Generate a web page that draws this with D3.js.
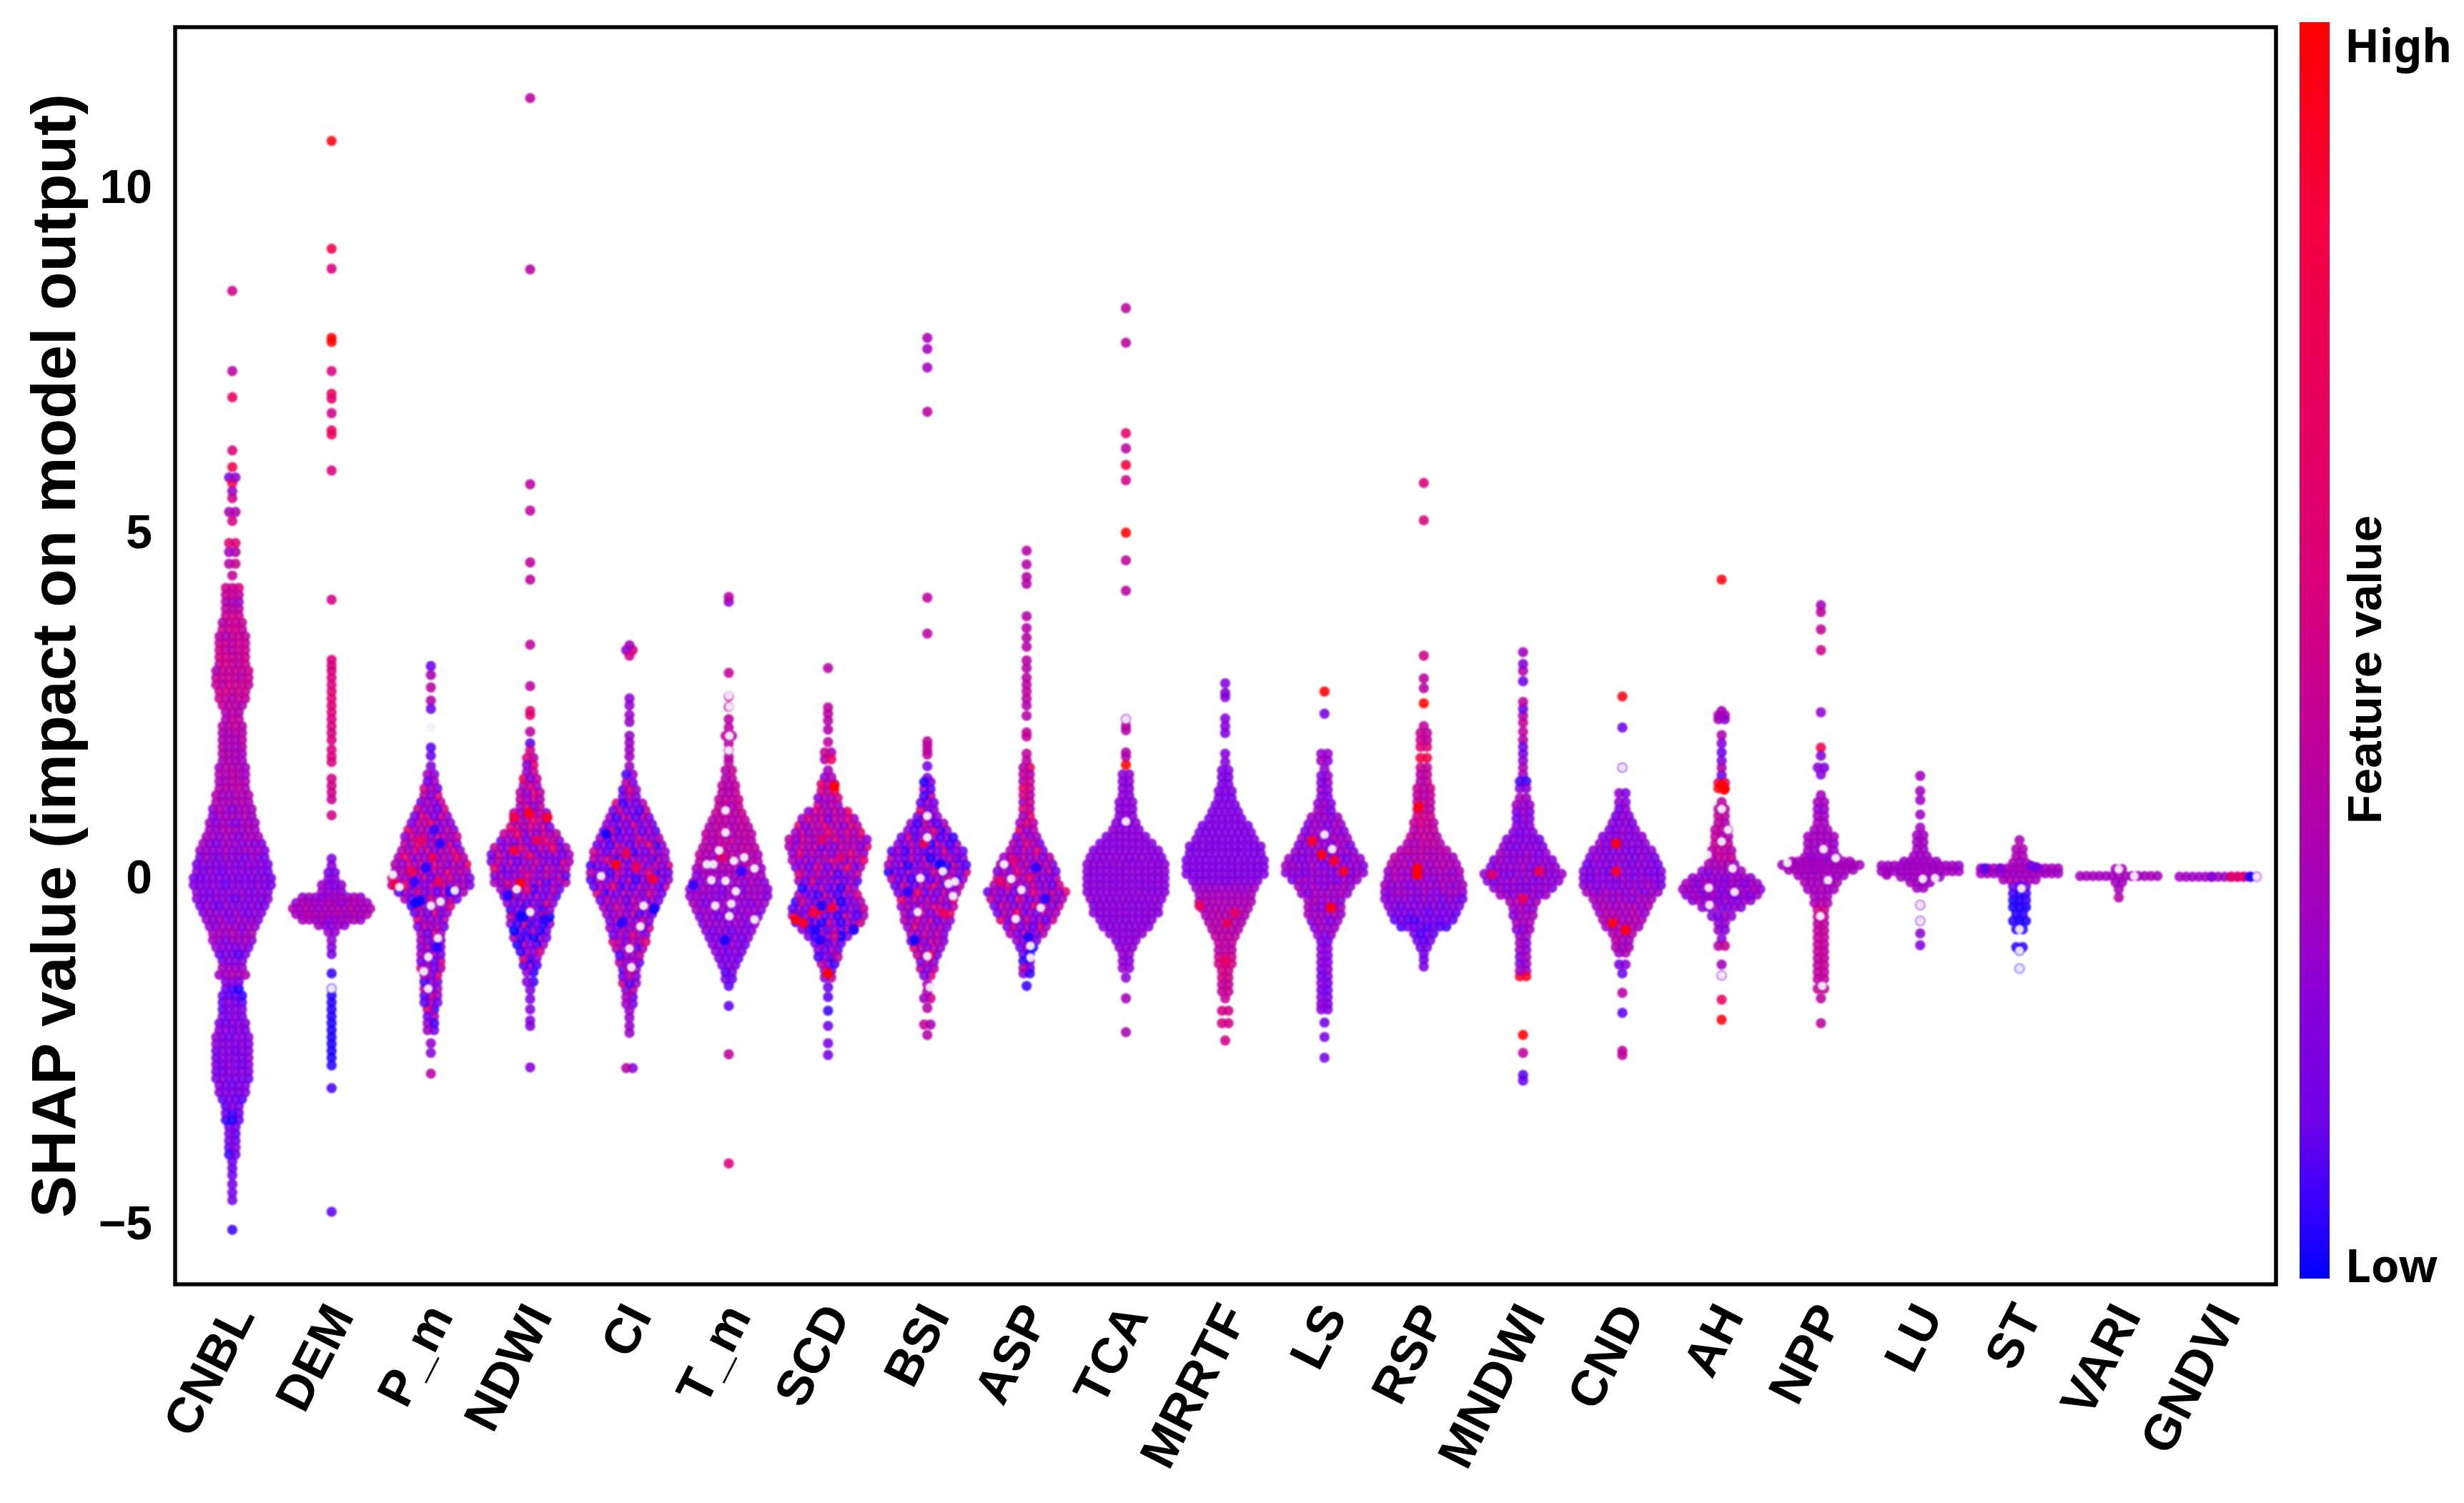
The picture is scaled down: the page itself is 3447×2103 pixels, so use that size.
<!DOCTYPE html>
<html>
<head>
<meta charset="utf-8">
<script src="https://cdn.jsdelivr.net/npm/d3@7"></script>
<style>
    body { margin: 0; background: #fff; }
    svg { display: block; }
</style>
</head>
<body>
<div id="container"></div>
<script>
const featureNames = ['CNBL', 'DEM', 'P_m', 'NDWI', 'CI', 'T_m', 'SCD', 'BSI', 'ASP', 'TCA', 'MRRTF', 'LS', 'RSP', 'MNDWI', 'CND', 'AH', 'NPP', 'LU', 'ST', 'VARI', 'GNDVI'];
const shapTicks = [-5, 0, 5, 10];

// swarm rows: [shap value, dots in the row, feature value]
const CNBL = [[8.5,1,.5],[7.34,1,.4],[6.96,1,.7],[6.19,1,.55],[5.95,1,.8],[5.8,2,.2],[5.72,1,.75],[5.6,1,.25],[5.5,1,.5],[5.3,2,.33],[5.17,1,.5],[4.85,2,.55],[4.72,2,.33],[4.55,2,.42],[4.38,1,.45],[4.2,3,.5],[4.1,3,.42],[4,3,.33],[3.9,3,.38],[3.8,3,.48],[3.7,4,.42],[3.6,4,.44],[3.5,5,.4],[3.4,5,.44],[3.3,5,.44],[3.2,5,.46],[3.1,5,.44],[3,6,.42],[2.9,6,.42],[2.8,6,.44],[2.7,5,.46],[2.6,5,.42],[2.5,4,.38],[2.4,3,.38],[2.3,3,.4],[2.2,4,.37],[2.1,4,.37],[2,4,.35],[1.9,4,.34],[1.8,4,.34],[1.7,4,.34],[1.6,5,.33],[1.5,5,.34],[1.4,5,.34],[1.3,5,.34],[1.2,6,.32],[1.1,6,.31],[1,7,.28],[.9,7,.28],[.8,8,.26],[.7,8,.3],[.6,9,.28],[.5,10,.24],[.4,11,.24],[.3,11,.22],[.2,12,.2],[.1,12,.2],[0,13,.19],[-.1,13,.19],[-.2,12,.2],[-.3,12,.19],[-.4,11,.2],[-.5,10,.22],[-.6,9,.23],[-.7,8,.26],[-.8,7,.28],[-.9,7,.26],[-1,6,.2],[-1.1,5,.15],[-1.2,4,.18],[-1.3,4,.28],[-1.4,5,.3],[-1.5,3,.2],[-1.6,3,.08],[-1.7,4,.08],[-1.8,4,.15],[-1.9,4,.17],[-2,4,.17],[-2.1,5,.18],[-2.2,5,.19],[-2.3,6,.19],[-2.4,6,.19],[-2.5,6,.19],[-2.6,6,.19],[-2.7,6,.19],[-2.8,6,.19],[-2.9,6,.17],[-3,5,.17],[-3.1,5,.17],[-3.2,4,.14],[-3.3,3,.15],[-3.4,3,.1],[-3.5,3,.08],[-3.6,2,.12],[-3.7,2,.12],[-3.8,2,.12],[-3.9,2,.14],[-4,2,.12],[-4.1,1,.12],[-4.2,1,.12],[-4.3,1,.13],[-4.43,1,.14],[-4.55,1,.14],[-4.66,1,.14],[-5.09,1,.06]];
const DEM = [[10.67,1,.95],[9.11,1,.8],[8.82,1,.55],[7.82,1,1],[7.76,1,1],[7.34,1,.55],[7.01,1,.7],[6.94,1,.6],[6.73,1,.5],[6.48,1,.7],[6.42,1,.7],[5.9,1,.55],[4.03,1,.5],[3.16,1,.55],[3.08,1,.52],[3,1,.56],[2.9,1,.55],[2.8,1,.56],[2.7,1,.55],[2.6,1,.6],[2.5,1,.6],[2.4,1,.58],[2.3,1,.55],[2.2,1,.55],[2.1,1,.52],[2,1,.55],[1.86,1,.55],[1.76,1,.55],[1.68,1,.55],[1.44,1,.5],[1.34,1,.5],[1.24,1,.5],[1.14,1,.45],[.91,1,.5],[.28,1,.2],[.18,1,.22],[.08,2,.2],[-.02,2,.2],[-.1,4,.22],[-.2,4,.24],[-.28,10,.28],[-.36,12,.3],[-.44,13,.32],[-.52,12,.32],[-.6,10,.3],[-.68,5,.24],[-.78,2,.24],[-.9,1,.24],[-1,1,.22],[-1.1,1,.16],[-1.38,1,.06],[-1.6,1,.06],[-1.7,1,.04],[-1.8,1,.04],[-1.9,1,.04],[-2,1,.04],[-2.1,1,.03],[-2.2,1,.03],[-2.3,1,.03],[-2.4,1,.03],[-2.5,1,.03],[-2.6,1,.03],[-2.71,1,.05],[-3.04,1,.08],[-4.83,1,.1]];
const P_m = [[3.07,1,.12],[2.94,1,.33],[2.76,1,.4],[2.57,1,.37],[2.45,1,.12],[1.89,1,.1],[1.77,1,.12],[1.62,1,.2],[1.5,2,.28],[1.4,2,.26],[1.3,3,.28],[1.2,3,.28],[1.1,4,.28],[1,5,.3],[.9,6,.32],[.8,7,.32],[.7,8,.34],[.6,9,.34],[.5,9,.34],[.4,10,.34],[.3,11,.34],[.2,12,.34],[.1,12,.34],[0,13,.32],[-.1,13,.28],[-.2,11,.26],[-.3,9,.22],[-.4,7,.2],[-.5,6,.24],[-.6,5,.26],[-.7,5,.28],[-.8,4,.28],[-.9,4,.28],[-1,4,.28],[-1.1,4,.26],[-1.2,4,.26],[-1.3,4,.26],[-1.4,3,.24],[-1.5,3,.24],[-1.6,3,.26],[-1.7,3,.24],[-1.8,3,.22],[-1.9,2,.22],[-2,2,.24],[-2.1,2,.22],[-2.2,2,.26],[-2.39,1,.25],[-2.53,1,.22],[-2.83,1,.4]];
const NDWI = [[11.29,1,.42],[8.81,1,.4],[5.7,1,.42],[5.32,1,.42],[4.57,1,.42],[4.32,1,.42],[3.38,1,.42],[2.78,1,.42],[2.42,1,.6],[2.36,1,.6],[2.12,1,.42],[1.95,1,.1],[1.85,1,.5],[1.74,2,.45],[1.64,2,.38],[1.54,2,.38],[1.44,3,.4],[1.34,3,.38],[1.24,4,.38],[1.14,4,.4],[1.04,4,.4],[.94,6,.36],[.84,6,.36],[.74,7,.36],[.64,9,.34],[.54,10,.32],[.44,12,.3],[.34,13,.28],[.24,13,.28],[.14,12,.28],[.04,12,.26],[-.06,12,.26],[-.16,10,.24],[-.26,9,.24],[-.36,8,.2],[-.46,7,.15],[-.56,7,.13],[-.66,7,.13],[-.76,6,.13],[-.86,6,.15],[-.96,5,.18],[-1.06,4,.18],[-1.16,3,.18],[-1.26,3,.18],[-1.36,2,.18],[-1.5,2,.18],[-1.62,1,.18],[-1.75,1,.18],[-1.9,1,.2],[-2.06,1,.2],[-2.14,1,.2],[-2.74,1,.22]];
const CI = [[3.37,1,.3],[3.3,2,.35],[3.22,1,.5],[2.6,1,.24],[2.5,1,.26],[2.36,1,.26],[2.26,1,.26],[2.06,1,.26],[1.96,1,.26],[1.86,1,.28],[1.76,1,.28],[1.62,1,.28],[1.5,2,.24],[1.38,2,.24],[1.28,3,.24],[1.18,3,.23],[1.08,5,.23],[.98,6,.23],[.88,7,.23],[.78,8,.23],[.68,9,.23],[.58,10,.23],[.48,11,.23],[.38,12,.23],[.28,12,.23],[.18,13,.23],[.08,13,.23],[-.02,13,.23],[-.12,12,.23],[-.22,11,.23],[-.32,10,.25],[-.42,9,.25],[-.52,8,.25],[-.62,7,.25],[-.72,7,.25],[-.82,6,.26],[-.92,6,.26],[-1.02,5,.26],[-1.12,4,.26],[-1.22,4,.25],[-1.32,3,.25],[-1.42,3,.25],[-1.52,3,.25],[-1.62,2,.25],[-1.72,2,.26],[-1.82,2,.26],[-1.92,1,.26],[-2.02,1,.26],[-2.14,1,.26],[-2.24,1,.26],[-2.75,2,.28]];
const T_m = [[4.07,1,.4],[4,1,.25],[2.97,1,.45],[2.63,1,.45],[2.48,1,.45],[2.3,1,.4],[2.18,1,.4],[2.06,2,.4],[1.95,1,.4],[1.85,1,.4],[1.75,1,.4],[1.68,1,.4],[1.56,2,.4],[1.44,2,.4],[1.34,3,.4],[1.24,3,.4],[1.14,4,.4],[1.04,4,.4],[.94,5,.4],[.84,6,.4],[.74,7,.38],[.64,8,.38],[.54,8,.38],[.44,9,.38],[.34,10,.36],[.24,10,.34],[.14,11,.32],[.04,11,.28],[-.06,12,.26],[-.16,13,.25],[-.26,13,.25],[-.36,12,.25],[-.46,11,.25],[-.56,10,.23],[-.66,9,.23],[-.76,8,.2],[-.86,7,.2],[-.96,6,.2],[-1.06,5,.18],[-1.16,4,.16],[-1.26,3,.18],[-1.36,2,.15],[-1.46,2,.15],[-1.56,1,.1],[-1.85,1,.1],[-2.55,1,.42],[-4.13,1,.55]];
const SCD = [[3.04,1,.38],[2.47,1,.42],[2.38,1,.4],[2.28,1,.38],[2.15,1,.36],[1.97,1,.42],[1.82,2,.42],[1.72,2,.4],[1.56,1,.3],[1.46,2,.3],[1.36,3,.38],[1.26,3,.38],[1.16,4,.38],[1.06,4,.38],[.96,7,.38],[.86,9,.38],[.76,10,.37],[.66,11,.36],[.56,13,.34],[.46,13,.32],[.36,12,.32],[.26,12,.3],[.16,11,.28],[.06,10,.26],[-.04,10,.23],[-.14,9,.2],[-.24,10,.2],[-.34,11,.2],[-.44,12,.21],[-.54,12,.21],[-.64,11,.18],[-.74,9,.18],[-.84,7,.18],[-.94,5,.2],[-1.04,4,.2],[-1.14,4,.18],[-1.24,3,.18],[-1.34,2,.2],[-1.44,2,.4],[-1.58,1,.12],[-1.72,1,.1],[-1.92,1,.06],[-2.14,1,.12],[-2.39,1,.16],[-2.56,1,.16]];
const BSI = [[7.82,1,.33],[7.66,1,.3],[7.39,1,.3],[6.75,1,.42],[4.06,1,.42],[3.54,1,.42],[1.98,1,.42],[1.92,1,.42],[1.85,1,.42],[1.79,1,.42],[1.62,1,.14],[1.45,1,.2],[1.39,2,.2],[1.29,2,.2],[1.19,2,.22],[1.09,3,.22],[.99,3,.22],[.89,4,.22],[.79,6,.22],[.69,7,.22],[.59,9,.2],[.49,10,.2],[.39,12,.2],[.29,12,.2],[.19,13,.2],[.09,13,.2],[-.01,12,.22],[-.11,11,.25],[-.21,10,.28],[-.31,9,.32],[-.41,9,.32],[-.51,8,.32],[-.61,8,.32],[-.71,7,.32],[-.81,6,.32],[-.91,6,.32],[-1.01,5,.32],[-1.11,4,.32],[-1.21,3,.32],[-1.31,3,.32],[-1.41,2,.32],[-1.54,1,.33],[-1.64,1,.35],[-1.74,2,.36],[-1.88,1,.36],[-2.12,2,.42],[-2.27,1,.38]];
const ASP = [[4.74,1,.38],[4.54,1,.38],[4.36,1,.38],[4.26,1,.38],[3.79,1,.38],[3.62,1,.38],[3.48,1,.38],[3.35,1,.38],[3.15,1,.38],[3.04,1,.38],[2.9,1,.4],[2.8,1,.4],[2.7,1,.42],[2.6,1,.4],[2.5,1,.38],[2.35,1,.38],[2.11,1,.44],[2.05,1,.44],[1.8,1,.42],[1.7,1,.42],[1.6,2,.42],[1.5,2,.42],[1.4,2,.42],[1.3,2,.42],[1.2,2,.42],[1.1,2,.42],[1,2,.44],[.9,2,.44],[.8,3,.42],[.7,3,.4],[.6,4,.24],[.5,5,.28],[.4,6,.33],[.3,8,.33],[.2,9,.3],[.1,10,.3],[0,10,.28],[-.1,11,.28],[-.2,13,.28],[-.3,12,.28],[-.4,11,.28],[-.5,10,.28],[-.6,9,.26],[-.7,7,.26],[-.8,6,.26],[-.9,4,.24],[-1,3,.18],[-1.1,2,.12],[-1.2,2,.14],[-1.3,2,.12],[-1.38,2,.12],[-1.56,1,.06]];
const TCA = [[8.25,1,.42],[7.75,1,.42],[6.44,1,.65],[6.22,1,.42],[5.98,1,.85],[5.76,1,.5],[5,1,1],[4.6,1,.42],[4.16,1,.42],[2.3,1,.25],[2.2,1,.38],[2.14,1,.38],[1.82,1,.36],[1.76,1,.36],[1.64,1,1],[1.5,2,.23],[1.4,2,.22],[1.3,2,.22],[1.2,2,.22],[1.1,3,.22],[1,3,.22],[.9,3,.22],[.8,4,.22],[.7,5,.22],[.6,7,.22],[.5,9,.22],[.4,11,.22],[.3,12,.22],[.2,13,.22],[.1,13,.22],[0,13,.22],[-.1,13,.22],[-.2,13,.22],[-.3,12,.22],[-.4,11,.22],[-.5,11,.22],[-.6,9,.22],[-.7,8,.22],[-.8,6,.22],[-.9,4,.22],[-1,3,.24],[-1.1,2,.24],[-1.2,2,.24],[-1.3,2,.24],[-1.44,1,.24],[-1.74,1,.3],[-2.23,1,.35]];
const MRRTF = [[2.82,1,.2],[2.68,1,.2],[2.62,1,.2],[2.31,1,.2],[2.2,1,.2],[2.1,1,.2],[1.8,1,.2],[1.68,1,.2],[1.56,2,.18],[1.46,2,.18],[1.36,2,.18],[1.26,3,.18],[1.16,3,.18],[1.06,4,.18],[.96,5,.18],[.86,6,.18],[.76,8,.18],[.66,9,.18],[.56,10,.18],[.46,12,.18],[.36,12,.18],[.26,13,.18],[.16,13,.18],[.06,13,.18],[-.04,11,.2],[-.14,10,.26],[-.24,9,.3],[-.34,9,.33],[-.44,8,.33],[-.54,7,.35],[-.64,6,.35],[-.74,5,.37],[-.84,4,.4],[-.94,3,.4],[-1.04,3,.4],[-1.14,3,.5],[-1.24,3,.5],[-1.34,2,.5],[-1.44,2,.48],[-1.54,2,.45],[-1.64,2,.45],[-1.74,1,.45],[-1.92,2,.5],[-2.1,2,.5],[-2.35,1,.5]];
const LS = [[2.7,1,1],[2.38,1,.15],[1.8,2,.24],[1.7,2,.24],[1.58,1,.24],[1.48,2,.22],[1.38,2,.24],[1.28,2,.24],[1.18,2,.24],[1.08,3,.24],[.98,3,.24],[.88,5,.24],[.78,6,.25],[.68,7,.25],[.58,8,.25],[.48,9,.25],[.38,10,.24],[.28,12,.24],[.18,13,.24],[.08,13,.24],[-.02,11,.24],[-.12,9,.27],[-.22,8,.27],[-.32,6,.28],[-.42,6,.28],[-.52,6,.27],[-.62,5,.25],[-.72,4,.24],[-.82,3,.22],[-.92,2,.2],[-1.02,2,.2],[-1.12,2,.18],[-1.22,2,.18],[-1.32,2,.18],[-1.42,2,.18],[-1.52,2,.18],[-1.62,2,.18],[-1.72,2,.18],[-1.82,2,.18],[-1.9,2,.18],[-2.09,1,.12],[-2.3,1,.14],[-2.6,1,.15]];
const RSP = [[5.72,1,.55],[5.18,1,.55],[3.22,1,.5],[2.89,1,.4],[2.75,1,.38],[2.53,1,1],[2.2,1,.42],[2.1,2,.42],[2,2,.48],[1.9,2,.55],[1.74,2,.8],[1.6,2,.42],[1.5,2,.42],[1.4,2,.42],[1.3,3,.42],[1.2,3,.42],[1.1,3,.42],[1,3,.46],[.9,3,.46],[.8,4,.46],[.7,4,.42],[.6,5,.42],[.5,6,.38],[.4,8,.36],[.3,10,.34],[.2,11,.33],[.1,12,.3],[0,12,.28],[-.1,13,.26],[-.2,13,.26],[-.3,13,.21],[-.4,12,.19],[-.5,11,.15],[-.6,10,.13],[-.7,8,.12],[-.8,4,.12],[-.9,3,.14],[-1,2,.14],[-1.1,1,.14],[-1.18,1,.14],[-1.28,1,.18]];
const MNDWI = [[3.27,1,.3],[3.1,1,.2],[3,1,.38],[2.85,1,.12],[2.55,1,.4],[2.45,1,.12],[2.35,1,.38],[2.25,1,.42],[2.12,1,.42],[2,1,.38],[1.9,1,.15],[1.8,1,.15],[1.7,1,.25],[1.6,1,.35],[1.5,1,.3],[1.4,2,.1],[1.3,2,.2],[1.16,2,.28],[1.06,3,.24],[.96,3,.2],[.86,3,.2],[.76,3,.2],[.66,4,.2],[.56,6,.2],[.46,7,.21],[.36,8,.23],[.26,10,.23],[.16,11,.23],[.06,13,.23],[-.04,12,.23],[-.14,10,.23],[-.24,8,.25],[-.34,5,.28],[-.44,4,.28],[-.54,4,.28],[-.64,3,.28],[-.74,3,.25],[-.84,2,.25],[-.94,2,.25],[-1.04,2,.24],[-1.14,2,.24],[-1.24,2,.24],[-1.34,2,.28],[-1.42,2,.9],[-2.27,1,1],[-2.53,1,.42],[-2.85,1,.1],[-2.93,1,.12]];
const CND = [[2.63,1,.95],[2.18,1,.12],[1.6,1,.12],[1.23,2,.2],[1.1,2,.2],[1,2,.2],[.9,3,.2],[.8,4,.21],[.7,5,.21],[.6,7,.21],[.5,8,.21],[.4,10,.21],[.3,11,.21],[.2,12,.2],[.1,13,.2],[0,13,.21],[-.1,13,.23],[-.2,12,.25],[-.3,10,.28],[-.4,9,.3],[-.5,8,.32],[-.6,7,.33],[-.7,6,.33],[-.8,4,.33],[-.9,3,.33],[-1,3,.3],[-1.08,2,.3],[-1.25,2,.2],[-1.38,1,.12],[-1.66,1,.4],[-1.95,1,.1],[-2.5,1,.4],[-2.56,1,.42]];
const AH = [[4.32,1,.95],[2.42,1,.3],[2.36,2,.33],[2.3,2,.25],[2.07,1,.35],[1.95,1,.2],[1.82,1,.12],[1.7,1,.22],[1.6,1,.35],[1.49,1,.12],[1.38,2,.7],[1.3,2,.95],[1.1,1,.4],[1,2,.4],[.9,2,.42],[.8,2,.42],[.7,3,.4],[.6,3,.4],[.5,3,.4],[.4,4,.4],[.3,4,.4],[.2,5,.3],[.1,7,.26],[0,10,.26],[-.08,12,.26],[-.16,13,.26],[-.24,12,.24],[-.32,10,.24],[-.42,7,.22],[-.55,4,.24],[-.65,2,.22],[-.75,2,.22],[-.88,1,.24],[-.98,2,.4],[-1.25,1,.3],[-1.41,1,.3],[-1.76,1,.7],[-2.05,1,.95]];
const NPP = [[3.95,1,.3],[3.85,1,.42],[3.6,1,.45],[3.3,1,.48],[2.4,1,.25],[1.89,1,.8],[1.77,1,.2],[1.6,2,.2],[1.5,1,.22],[1.2,1,.3],[1.1,2,.3],[1,2,.25],[.9,2,.28],[.8,2,.3],[.7,3,.3],[.6,5,.3],[.5,5,.28],[.4,5,.28],[.3,6,.26],[.24,10,.3],[.19,13,.3],[.12,11,.3],[.04,8,.28],[-.06,6,.3],[-.16,5,.3],[-.26,3,.32],[-.36,3,.35],[-.46,2,.5],[-.56,2,.42],[-.66,2,.42],[-.76,2,.42],[-.86,2,.42],[-.96,2,.42],[-1.06,2,.42],[-1.16,2,.42],[-1.26,2,.42],[-1.36,2,.42],[-1.46,2,.42],[-1.6,2,.42],[-1.74,1,.42],[-2.1,1,.42]];
const LU = [[1.48,1,.3],[1.26,1,.3],[1.13,1,.28],[.92,1,.28],[.73,1,.28],[.62,2,.28],[.52,2,.28],[.42,2,.28],[.32,3,.28],[.24,6,.28],[.18,13,.28],[.1,13,.28],[.02,7,.28],[-.06,4,.28],[-.14,2,.28],[-.39,1,.2],[-.62,1,.15],[-.8,1,.24],[-.97,1,.2]];
const ST = [[.55,1,.33],[.42,2,.33],[.32,2,.33],[.22,3,.3],[.14,13,.3],[.07,13,.28],[-.02,6,.3],[-.12,3,.12],[-.22,3,.05],[-.32,3,.04],[-.42,3,.03],[-.52,2,.03],[-.62,3,.03],[-.74,2,.03],[-1,2,.05],[-1.05,1,.05],[-1.31,1,.05]];
const VARI = [[.13,2,.3],[.03,13,.3],[-.06,2,.3],[-.16,1,.3],[-.28,1,.38]];
const GNDVI = [[.02,13,.28]];

const featureRows = [CNBL, DEM, P_m, NDWI, CI, T_m, SCD, BSI, ASP, TCA, MRRTF, LS, RSP, MNDWI, CND, AH, NPP, LU, ST, VARI, GNDVI];

// how far the feature value strays from the row value, dot by dot
const speckleCNBL = [.03, -.03, .05, -.02, -.05, .04, .01];
const speckleMild = [.03, -.03, .05, -.02, -.05, .04, .01];
const speckleStrong = [.13, -.1, .05, -.14, .22, .02, -.11, .1, -.06, .3, -.16, .03, -.08];
const speckleFlat = [0, .01, -.01, 0, .02];
const speckleBySwarm = [speckleCNBL, speckleMild, speckleStrong, speckleStrong, speckleStrong, speckleMild, speckleStrong, speckleStrong, speckleStrong, speckleFlat, speckleFlat, speckleMild, speckleMild, speckleMild, speckleMild, speckleMild, speckleFlat, speckleFlat, speckleFlat, speckleFlat, speckleFlat];

// single dots that stand out: [feature, shap value, columns from the centre, feature value]
const accentDots = [
    ['NDWI', .88, -2.5, .85], ['NDWI', .94, -.2, .95], ['NDWI', .88, 2.7, .9], ['NDWI', .4, -2.5, .85], ['NDWI', -.07, -1.5, .95], ['NDWI', -.55, -1.5, .02], ['NDWI', -.6, 2.2, .04], ['NDWI', -.25, -3.4, .04], ['NDWI', .55, 1, .7],
    ['CI', .2, -2.1, .95], ['CI', -.01, 3.6, .85], ['CI', -.45, 3.8, .02], ['CI', .64, -3.6, .02], ['CI', .35, -.5, .7], ['CI', -.65, -1.2, .05], ['CI', .15, 1, .7],
    ['P_m', -.33, -1.7, .02], ['P_m', -.36, -2.4, .02], ['P_m', -.05, -2.6, .06], ['P_m', -.2, 3, .05], ['P_m', .5, 1.4, .05], ['P_m', .15, -.8, .05], ['P_m', .3, .3, .65], ['P_m', .1, -3, .7], ['P_m', -.05, 1.2, .7], ['P_m', .55, -1.5, .65], ['P_m', .7, .5, .08], ['P_m', -.1, -5.6, .8], ['P_m', -1, 1, .05],
    ['SCD', -1.38, 0, 1], ['SCD', -.6, -5, .95], ['SCD', -.65, -3.8, .9], ['SCD', 1.33, 1, 1], ['SCD', -.43, .6, .8], ['SCD', -.45, -1.3, .8], ['SCD', -.5, -2.3, .85], ['SCD', -.75, -2, .04], ['SCD', -.4, -1, .04], ['SCD', -.9, -1.2, .04], ['SCD', -.75, 4, .05], ['SCD', .3, 2, .55], ['SCD', .55, -1, .6],
    ['LS', .54, -1.9, .9], ['LS', .34, -.4, .95], ['LS', .1, 3, .9], ['LS', -.43, 1, .95], ['LS', .25, 1.5, .9],
    ['RSP', .14, -1, 1], ['RSP', .05, -1, 1], ['RSP', 1.03, -.8, .95],
    ['MRRTF', -.4, -4, .7], ['MRRTF', -.65, .3, .7], ['MRRTF', -1.2, 0, .65], ['MRRTF', -.5, 1.5, .65],
    ['MNDWI', .1, 2.5, .75], ['MNDWI', .05, -4.8, .6], ['MNDWI', -.3, 0, .7],
    ['CND', .5, -1, .95], ['CND', .1, -1, .9], ['CND', -.65, -1.5, .95], ['CND', -.75, .5, .95],
    ['AH', 1.35, 0, 1], ['AH', 1.28, .4, 1],
    ['BSI', .2, 2, .02], ['BSI', -.9, -2, .02], ['BSI', .5, -.5, .7], ['BSI', -.5, 2.5, .7], ['BSI', -.2, -3, .05], ['T_m', -.9, -.6, .03], ['T_m', .1, 2, .06], ['T_m', -.1, -5.5, .06], ['T_m', .3, -1, .6],
    ['ASP', -.05, -4, .6], ['ASP', -.3, 3, .05], ['ASP', .15, 1.5, .05], ['ASP', .25, -2, .55], ['ASP', -.85, .3, .04],
    ['LU', .05, -5.2, .3],
    ['ST', .14, -5.4, .1], ['ST', .14, -3, .2], ['ST', .18, 1.8, .14], ['ST', .16, 2.6, .14],
    ['GNDVI', .02, 2, .6], ['GNDVI', .02, 3, .65], ['GNDVI', .02, 4, .55], ['GNDVI', .02, 5, .03], ['GNDVI', .02, -1, .22]
];

// dots that show up pale: [feature, shap value, columns from the centre]
const paleDots = [
    ['DEM', -1.6, 0],
    ['P_m', -.18, 3.7], ['P_m', -.13, -4.9], ['P_m', 2.18, 0], ['P_m', -.4, 0], ['P_m', -.34, 1.5], ['P_m', -.87, 1.1], ['P_m', -1.14, -.4], ['P_m', -1.35, -1.1], ['P_m', -1.6, -.4], ['P_m', .05, -5.9],
    ['NDWI', -.16, -2.1], ['NDWI', -.49, 0],
    ['CI', .03, -4.4], ['CI', -.7, 1.7], ['CI', -1.29, .3], ['CI', -1.02, 0], ['CI', -.4, 2.2],
    ['T_m', .98, -.5], ['T_m', .66, -.5], ['T_m', 2.06, .1], ['T_m', 1.85, 0], ['T_m', 2.48, .1], ['T_m', 2.64, 0], ['T_m', .4, -1.5], ['T_m', .2, -3.4], ['T_m', .2, -2.4], ['T_m', .25, .8], ['T_m', .3, 2.4], ['T_m', -.03, -2.7], ['T_m', -.04, -.5], ['T_m', -.19, 1.1], ['T_m', .14, 4], ['T_m', -.4, -2.1], ['T_m', -.55, .1], ['T_m', -.37, .4], ['T_m', -.6, 4],
    ['BSI', .9, 0], ['BSI', .59, 0], ['BSI', 0, -1.1], ['BSI', -.08, 3.3], ['BSI', -.05, 4.3], ['BSI', .1, 2.4], ['BSI', -.49, -1.5], ['BSI', -1.13, 0], ['BSI', -.26, 4], ['BSI', -1.58, .4],
    ['ASP', -.01, -2.4], ['ASP', -.17, -.8], ['ASP', -.59, -1.7], ['ASP', -.98, .6], ['ASP', -1.15, .6], ['ASP', -.43, 2.2], ['ASP', .2, -3.5],
    ['TCA', 2.3, 0], ['TCA', .82, 0],
    ['LS', .42, 1.2], ['LS', .63, 0],
    ['CND', 1.6, 0],
    ['AH', -.14, -2], ['AH', .14, 1.7], ['AH', .53, 0], ['AH', .7, 1], ['AH', -.39, -1.9], ['AH', 1, 0], ['AH', -1.41, 0], ['AH', .34, -2.2], ['AH', -.2, 2],
    ['NPP', .42, .4], ['NPP', .29, 2.3], ['NPP', .22, -5.2], ['NPP', -.03, 1.1], ['NPP', -.55, -.1], ['NPP', -1.56, .2],
    ['LU', -.01, .4], ['LU', 0, 2.3], ['LU', -.39, 0], ['LU', -.62, 0],
    ['ST', -.15, .3], ['ST', -.74, 0], ['ST', -1.05, 0], ['ST', -1.31, 0],
    ['VARI', .03, 2.4], ['VARI', .13, 0],
    ['GNDVI', .02, 6]
];

// colour bar, read from bottom to top
const barStops = [0, .05, .125, .226, .284, .37, .56, .85, 1];
const barColors = ['#0000ff', '#3000ff', '#7000e8', '#8a00d8', '#9f00c0', '#b000a8', '#dc0078', '#f50040', '#ff0000'];

const width = 3447, height = 2103;
const frame = { left: 245, right: 3184, top: 38, bottom: 1797 };
const dotStep = 9;
const dotRadius = 6.8;

const svg = d3.select('#container').append('svg').attr('width', width).attr('height', height);
svg.append('rect').attr('width', width).attr('height', height).attr('fill', '#fff');

const xScale = d3.scalePoint().domain(featureNames).range([325, 3103]);
const yScale = d3.scaleLinear().domain([-5, 10]).range([1712, 262]);
const toneScale = d3.scaleLinear().domain(barStops).range(barColors).clamp(true);

// lay each row out side by side around the column centre
const swarmDots = [];
featureNames.forEach((name, f) => {
    const speckle = speckleBySwarm[f];
    featureRows[f].forEach((row, r) => {
        const [shap, count, tone] = row;
        d3.range(count).forEach(k => {
            swarmDots.push({
                name, shap,
                offset: k - (count - 1) / 2,
                tone: tone + (tone > .8 || count === 1 ? 0 : speckle[(r * 3 + k) % speckle.length])
            });
        });
    });
});

// painted out of row order, so dots overlap the way a swarm plot does
const drawOrder = swarmDots.map((d, i) => ({ d, key: (i * 2654435) % 1000003 })).sort((a, b) => a.key - b.key).map(e => e.d);

const dotLayer = svg.append('g').style('filter', 'blur(0.9px)');

const drawDots = (data, fill, opacity, radius, ring) => {
    dotLayer.append('g').selectAll('circle')
        .data(data)
        .join('circle')
        .attr('cx', d => xScale(d.name) + d.offset * dotStep)
        .attr('cy', d => yScale(d.shap))
        .attr('r', radius)
        .attr('fill', fill)
        .attr('fill-opacity', opacity)
        .attr('stroke', ring)
        .attr('stroke-opacity', opacity * .45)
        .attr('stroke-width', 1.4);
};

const toneFill = d => toneScale(d.tone);
drawDots(drawOrder, toneFill, .88, dotRadius, toneFill);
drawDots(accentDots.map(([name, shap, offset, tone]) => ({ name, shap, offset, tone })), toneFill, .95, dotRadius, toneFill);
drawDots(paleDots.map(([name, shap, offset]) => ({ name, shap, offset })), '#f6f0fc', .95, 5.8, '#e8dcf8');

// frame
svg.append('rect')
    .attr('x', frame.left).attr('y', frame.top)
    .attr('width', frame.right - frame.left).attr('height', frame.bottom - frame.top)
    .attr('fill', 'none').attr('stroke', '#000').attr('stroke-width', 5.5);

// axes
const yAxis = svg.append('g')
    .attr('transform', `translate(${frame.left},0)`)
    .call(d3.axisLeft(yScale).tickValues(shapTicks).tickSize(0).tickPadding(32));
yAxis.select('.domain').remove();
yAxis.selectAll('text')
    .attr('font-family', '"Liberation Sans", Arial, sans-serif')
    .attr('font-weight', 700)
    .attr('font-size', 66)
    .attr('fill', '#000');

const xAxis = svg.append('g')
    .attr('transform', `translate(0,${frame.bottom})`)
    .call(d3.axisBottom(xScale).tickSize(0));
xAxis.select('.domain').remove();
xAxis.selectAll('text')
    .attr('font-family', '"Liberation Sans", Arial, sans-serif')
    .attr('font-weight', 700)
    .attr('font-size', 70)
    .attr('fill', '#000')
    .attr('text-anchor', 'end')
    .attr('dy', 0)
    .attr('y', 0)
    .attr('transform', 'translate(32,44) rotate(-63)');

svg.append('text')
    .attr('transform', `translate(105,917.5) rotate(-90)`)
    .attr('text-anchor', 'middle')
    .attr('font-family', '"Liberation Sans", Arial, sans-serif')
    .attr('font-weight', 700)
    .attr('font-size', 88)
    .text('SHAP value (impact on model output)');

// colour bar
const gradient = svg.append('defs').append('linearGradient')
    .attr('id', 'featureBar')
    .attr('x1', 0).attr('x2', 0).attr('y1', 1).attr('y2', 0);
gradient.selectAll('stop')
    .data(barStops)
    .join('stop')
    .attr('offset', d => d)
    .attr('stop-color', (d, i) => barColors[i]);

svg.append('rect')
    .attr('x', 3217).attr('y', 31)
    .attr('width', 42).attr('height', 1758)
    .attr('fill', 'url(#featureBar)');

svg.append('text')
    .attr('x', 3280).attr('y', 87)
    .attr('font-family', '"Noto Sans", sans-serif')
    .attr('font-weight', 700)
    .attr('font-size', 64)
    .text('High');

svg.append('text')
    .attr('x', 3281).attr('y', 1794)
    .attr('font-family', '"Noto Sans", sans-serif')
    .attr('font-weight', 700)
    .attr('font-size', 64)
    .text('Low');

svg.append('text')
    .attr('transform', 'translate(3331,1153) rotate(-90)')
    .attr('font-family', '"Liberation Sans", Arial, sans-serif')
    .attr('font-weight', 700)
    .attr('font-size', 67)
    .text('Feature value');
</script>
</body>
</html>
